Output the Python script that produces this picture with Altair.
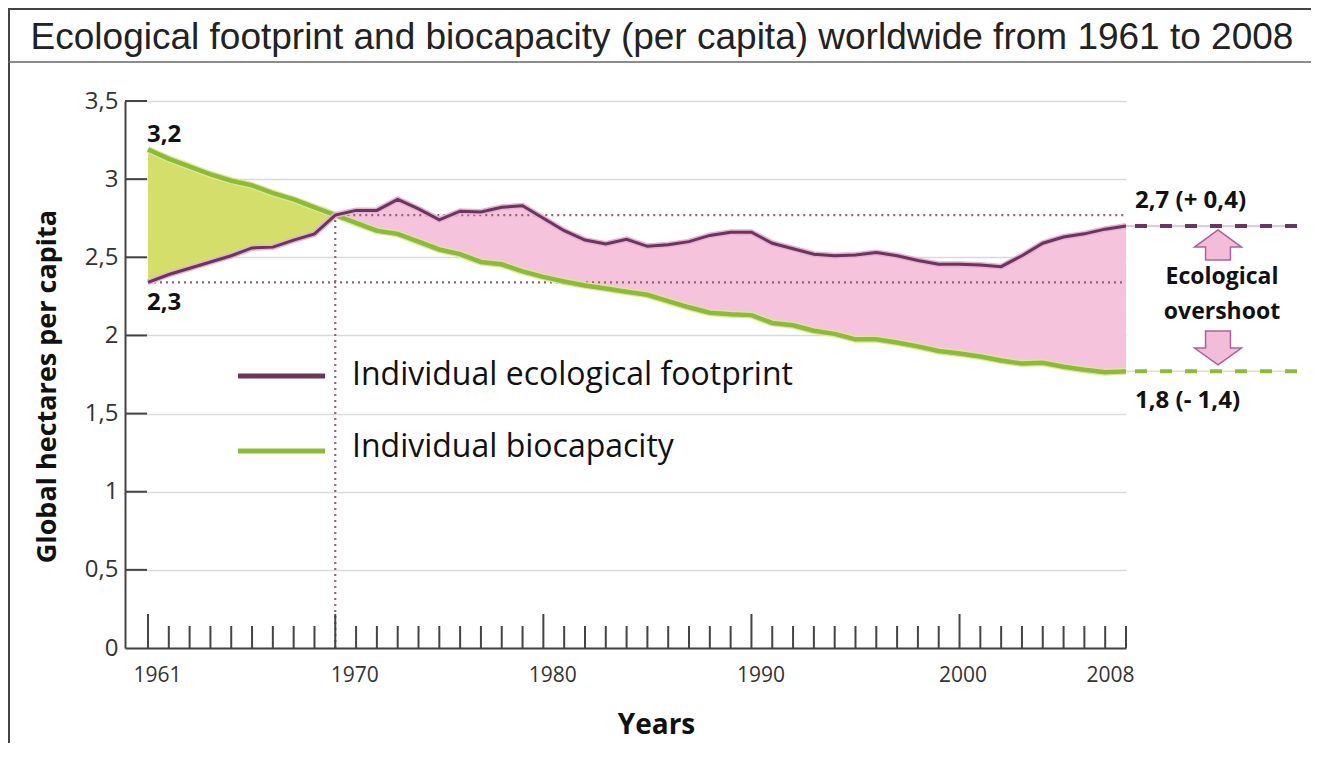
import altair as alt
import pandas as pd

# ---------------- data ----------------
years = list(range(1961, 2009))
footprint = [2.34, 2.39, 2.43, 2.47, 2.51, 2.56, 2.565, 2.61, 2.65, 2.77,
             2.80, 2.80, 2.87, 2.81, 2.74, 2.795, 2.79, 2.82, 2.83, 2.75,
             2.67, 2.61, 2.585, 2.615, 2.57, 2.58, 2.60, 2.64, 2.66, 2.66,
             2.59, 2.555, 2.52, 2.51, 2.515, 2.53, 2.51, 2.48, 2.455, 2.455,
             2.45, 2.44, 2.51, 2.59, 2.63, 2.65, 2.68, 2.70]
biocapacity = [3.19, 3.13, 3.08, 3.03, 2.99, 2.96, 2.91, 2.87, 2.82, 2.77,
               2.72, 2.67, 2.65, 2.60, 2.55, 2.52, 2.47, 2.455, 2.41, 2.375,
               2.345, 2.32, 2.30, 2.28, 2.26, 2.22, 2.18, 2.145, 2.135, 2.13,
               2.08, 2.065, 2.03, 2.01, 1.975, 1.975, 1.955, 1.93, 1.90, 1.885,
               1.865, 1.84, 1.82, 1.825, 1.80, 1.78, 1.765, 1.77]
x_label_years = [1961, 1970, 1980, 1990, 2000, 2008]
major_tick_years = [1961, 1970, 1980, 1990, 2000]
y_ticks = [0, 0.5, 1, 1.5, 2, 2.5, 3, 3.5]
series_names = ["Individual ecological footprint", "Individual biocapacity"]
title_text = "Ecological footprint and biocapacity (per capita) worldwide from 1961 to 2008"
start_labels = ["3,2", "2,3"]
end_labels = ["2,7 (+ 0,4)", "1,8 (- 1,4)"]
overshoot_lines = ["Ecological", "overshoot"]
cross_year = 1970

# ---------------- style ----------------
PURPLE = "#6a355f"
PURPLE_HALO = "#eab0d2"
GREEN = "#8dbb35"
GREEN_HALO = "#d9ea9f"
GREEN_FILL = "#d4df6b"
PINK_FILL = "#f6c3dc"
DOT = "#8f6478"
AXIS = "#444444"
FONT = "Open Sans"

W, H = 1001, 547

df = pd.DataFrame({"year": years, "footprint": footprint, "biocapacity": biocapacity})
one = pd.DataFrame({"k": [0]})

x_scale = alt.Scale(domain=[1959.895, 2008], nice=False, zero=False)
y_scale = alt.Scale(domain=[0, 3.5], nice=False, zero=True)

x_axis = alt.Axis(values=x_label_years, format="d", ticks=False, grid=False,
                  domain=True, domainColor=AXIS, domainWidth=2,
                  labelFont=FONT, labelFontSize=21, labelColor="#333",
                  labelPadding=16, labelFlush=False, labelOverlap=False,
                  labelOffset={"condition": [{"test": "datum.value == 1970", "value": 19},
                                             {"test": "datum.value == 2000", "value": 3},
                                             {"test": "datum.value == 2008", "value": -16}],
                               "value": 9},
                  title="Years", titleFont=FONT, titleFontSize=28,
                  titleFontWeight="bold", titleColor="#111",
                  titleX=531, titleY=77, titleAlign="center", titleBaseline="middle")
y_axis = alt.Axis(values=y_ticks, ticks=False, grid=True, gridColor="#d9d9d9",
                  gridWidth=1.5, domain=True, domainColor=AXIS, domainWidth=2,
                  labelExpr="replace(format(datum.value, '.1~f'), '.', ',')",
                  labelFont=FONT, labelFontSize=24, labelColor="#333", labelPadding=7,
                  title="Global hectares per capita", titleFont=FONT, titleFontSize=27,
                  titleFontWeight="bold", titleColor="#111", titleAngle=270,
                  titleX=-78, titleY=285, titleAlign="center", titleBaseline="middle")

# every layer that uses the shared scales carries the same axis definition
X = lambda f: alt.X(f, type="quantitative", scale=x_scale, axis=x_axis)
Y = lambda f: alt.Y(f, type="quantitative", scale=y_scale, axis=y_axis)
XD = lambda v: alt.X(datum=v, type="quantitative", scale=x_scale, axis=x_axis)
YD = lambda v: alt.Y(datum=v, type="quantitative", scale=y_scale, axis=y_axis)

base = alt.Chart(df)

green_area = base.transform_filter(alt.datum.year <= cross_year).mark_area(
    color=GREEN_FILL, opacity=1).encode(x=X("year"), y=Y("biocapacity"), y2="footprint:Q")

pink_area = base.transform_filter(alt.datum.year >= cross_year).mark_area(
    color=PINK_FILL, opacity=1).encode(x=X("year"), y=Y("footprint"), y2="biocapacity:Q")

# dotted reference lines
cross_val = footprint[years.index(cross_year)]
ref_df = pd.DataFrame({
    "x": [cross_year, cross_year, years[0]],
    "x2": [cross_year, years[-1], years[-1]],
    "y": [0, cross_val, footprint[0]],
    "y2": [cross_val, cross_val, footprint[0]],
})
refs = alt.Chart(ref_df).mark_rule(color=DOT, strokeWidth=2.2, strokeDash=[2, 4]).encode(
    x=X("x"), x2="x2:Q", y=Y("y"), y2="y2:Q")

# inward axis ticks
minor_years = [y for y in years if y not in major_tick_years]
x_minor = alt.Chart(pd.DataFrame({"year": minor_years})).mark_rule(
    color=AXIS, strokeWidth=2).encode(x=X("year"), y=alt.value(H), y2=alt.value(H - 22))
x_major = alt.Chart(pd.DataFrame({"year": major_tick_years})).mark_rule(
    color=AXIS, strokeWidth=2).encode(x=X("year"), y=alt.value(H), y2=alt.value(H - 34))
y_tk = alt.Chart(pd.DataFrame({"v": y_ticks[1:]})).mark_rule(
    color=AXIS, strokeWidth=2).encode(y=Y("v"), x=alt.value(0), x2=alt.value(22))

# lines
fp_halo = base.mark_line(color=PURPLE_HALO, strokeWidth=6).encode(x=X("year"), y=Y("footprint"))
fp_line = base.mark_line(color=PURPLE, strokeWidth=3).encode(x=X("year"), y=Y("footprint"))
bc_halo = base.mark_line(color=GREEN_HALO, strokeWidth=7).encode(x=X("year"), y=Y("biocapacity"))
bc_line = base.mark_line(color=GREEN, strokeWidth=4.5).encode(x=X("year"), y=Y("biocapacity"))

# value annotations
def anno(xv, yv, text, dx, dy, size=24, weight="bold", align="left"):
    return alt.Chart(one).mark_text(text=text, font=FONT, fontSize=size, fontWeight=weight,
                                    color="#111", align=align, baseline="middle",
                                    dx=dx, dy=dy).encode(x=XD(xv), y=YD(yv))

a1 = anno(years[0], biocapacity[0], start_labels[0], -1, -14)
a2 = anno(years[0], footprint[0], start_labels[1], -1, 21)
a3 = anno(years[-1], footprint[-1], end_labels[0], 9, -25)
a4 = anno(years[-1], biocapacity[-1], end_labels[1], 9, 30)

# right side dashed extensions
END_PX = 1172
def ext(yv, color, halo):
    thin = alt.Chart(one).mark_rule(color=halo, strokeWidth=1.5).encode(
        x=XD(years[-1]), x2=alt.value(END_PX), y=YD(yv))
    dash = alt.Chart(one).mark_rule(color=color, strokeWidth=4, strokeDash=[12, 13],
                                    strokeDashOffset=-9).encode(
        x=XD(years[-1]), x2=alt.value(END_PX), y=YD(yv))
    return [thin, dash]

ext_fp = ext(footprint[-1], PURPLE, PURPLE_HALO)
ext_bc = ext(biocapacity[-1], GREEN, GREEN_HALO)

UP = "M0,-0.64 L1,0.09 L0.53,0.09 L0.53,0.64 L-0.53,0.64 L-0.53,0.09 L-1,0.09 Z"
DOWN = "M0,0.72 L1,0 L0.53,0 L0.53,-0.72 L-0.53,-0.72 L-0.53,0 L-1,0 Z"
arrow_style = dict(size=2209, filled=True, fill="#f3bcd9", stroke="#a8649a",
                   strokeWidth=1.5, opacity=1)
arrow_up = alt.Chart(one).mark_point(shape=UP, **arrow_style).encode(
    x=alt.value(1093), y=alt.value(144))
arrow_dn = alt.Chart(one).mark_point(shape=DOWN, **arrow_style).encode(
    x=alt.value(1093), y=alt.value(247))

def ptext(xp, yp, text, size, weight="normal", align="center", font=FONT, color="#111"):
    return alt.Chart(one).mark_text(text=text, font=font, fontSize=size, fontWeight=weight,
                                    color=color, align=align, baseline="middle").encode(
        x=alt.value(xp), y=alt.value(yp))

ov1 = ptext(1097, 176, overshoot_lines[0], 23, "bold")
ov2 = ptext(1097, 211, overshoot_lines[1], 23, "bold")

# manual legend
leg_fp = alt.Chart(one).mark_rule(color=PURPLE, strokeWidth=5).encode(
    x=alt.value(113), x2=alt.value(200), y=alt.value(275))
leg_bc = alt.Chart(one).mark_rule(color=GREEN, strokeWidth=5).encode(
    x=alt.value(113), x2=alt.value(200), y=alt.value(350))
leg_t1 = ptext(227, 274, series_names[0], 32, align="left")
leg_t2 = ptext(227, 346, series_names[1], 32, align="left")

# frame and title
frame_left = alt.Chart(one).mark_rule(color="#444", strokeWidth=2).encode(
    x=alt.value(-116), y=alt.value(-92), y2=alt.value(660))
frame_top = alt.Chart(one).mark_rule(color="#444", strokeWidth=2).encode(
    x=alt.value(-117), x2=alt.value(1200), y=alt.value(-92))
frame_sep = alt.Chart(one).mark_rule(color="#666", strokeWidth=1.5).encode(
    x=alt.value(-117), x2=alt.value(1200), y=alt.value(-39))
title = ptext(537, -63, title_text, 37, font="Liberation Sans", color="#222")

chart = alt.layer(
    green_area, pink_area, refs,
    bc_halo, bc_line, fp_halo, fp_line,
    x_minor, x_major, y_tk,
    a1, a2, a3, a4, *ext_fp, *ext_bc, arrow_up, arrow_dn, ov1, ov2,
    leg_fp, leg_bc, leg_t1, leg_t2,
    frame_left, frame_top, frame_sep, title,
).properties(
    width=W, height=H,
    background="white",
    padding={"left": 117, "top": 93, "right": 185, "bottom": 95},
    autosize=alt.AutoSizeParams(type="none"),
).configure_view(stroke=None)

chart.save("out.html", embed_options={"renderer": "svg", "actions": False})
